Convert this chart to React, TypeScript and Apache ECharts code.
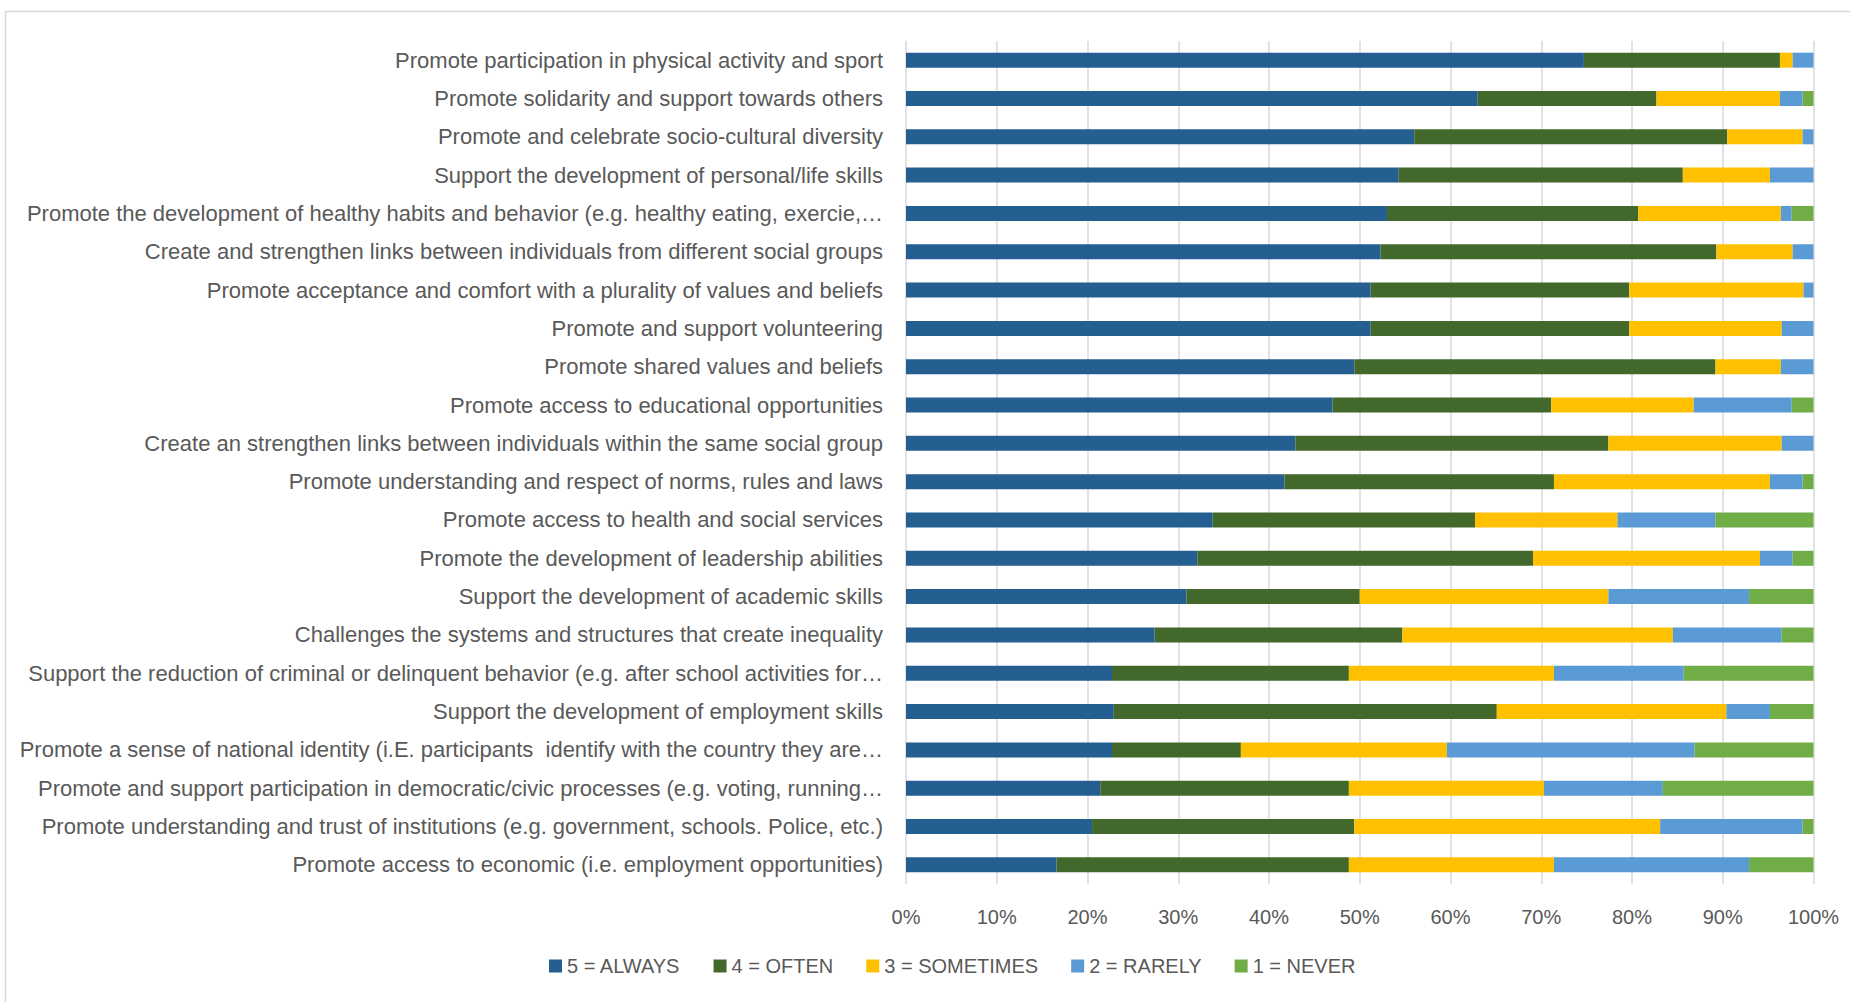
import React, { useEffect, useRef } from "react";
import * as echarts from "echarts";

const categories: string[] = [
  "Promote participation in physical activity and sport",
  "Promote solidarity and support towards others",
  "Promote and celebrate socio-cultural diversity",
  "Support the development of personal/life skills",
  "Promote the development of healthy habits and behavior (e.g. healthy eating, exercie,…",
  "Create and strengthen links between individuals from different social groups",
  "Promote acceptance and comfort with a plurality of values and beliefs",
  "Promote and support volunteering",
  "Promote shared values and beliefs",
  "Promote access to educational opportunities",
  "Create an strengthen links between individuals within the same social group",
  "Promote understanding and respect of norms, rules and laws",
  "Promote access to health and social services",
  "Promote the development of leadership abilities",
  "Support the development of academic skills",
  "Challenges the systems and structures that create inequality",
  "Support the reduction of criminal or delinquent behavior (e.g. after school activities for…",
  "Support the development of employment skills",
  "Promote a sense of national identity (i.E. participants  identify with the country they are…",
  "Promote and support participation in democratic/civic processes (e.g. voting, running…",
  "Promote understanding and trust of institutions (e.g. government, schools. Police, etc.)",
  "Promote access to economic (i.e. employment opportunities)",
];

const always: number[] = [74.7, 63.0, 56.0, 54.3, 53.0, 52.3, 51.2, 51.2, 49.4, 47.0, 42.9, 41.7, 33.8, 32.1, 30.9, 27.4, 22.7, 22.9, 22.7, 21.4, 20.5, 16.6];
const often: number[] = [21.6, 19.7, 34.5, 31.3, 27.7, 37.0, 28.5, 28.5, 39.8, 24.1, 34.5, 29.7, 28.9, 37.0, 19.1, 27.3, 26.1, 42.2, 14.2, 27.4, 28.9, 32.2];
const sometimes: number[] = [1.4, 13.6, 8.3, 9.6, 15.7, 8.4, 19.2, 16.8, 7.2, 15.7, 19.1, 23.8, 15.7, 25.0, 27.4, 29.8, 22.6, 25.3, 22.7, 21.5, 33.7, 22.6];
const rarely: number[] = [2.3, 2.5, 1.2, 4.8, 1.2, 2.3, 1.1, 3.5, 3.6, 10.8, 3.5, 3.6, 10.8, 3.6, 15.5, 12.0, 14.3, 4.8, 27.3, 13.1, 15.7, 21.5];
const never: number[] = [0, 1.2, 0, 0, 2.4, 0, 0, 0, 0, 2.4, 0, 1.2, 10.8, 2.3, 7.1, 3.5, 14.3, 4.8, 13.1, 16.6, 1.2, 7.1];

const seriesNames: string[] = ["5 = ALWAYS", "4 = OFTEN", "3 = SOMETIMES", "2 = RARELY", "1 = NEVER"];
const seriesColors: string[] = ["#255e91", "#43682b", "#ffc000", "#5b9bd5", "#70ad47"];
const xTicks: number[] = [0, 10, 20, 30, 40, 50, 60, 70, 80, 90, 100];

const FONT = "'Liberation Sans Narrow', 'Arial Narrow', 'Liberation Sans', sans-serif";

export default function App() {
  const ref = useRef<HTMLDivElement>(null);
  useEffect(() => {
    if (!ref.current) return;
    const chart = echarts.init(ref.current, undefined, { renderer: "svg" });
    const data = [always, often, sometimes, rarely, never];
    chart.setOption({
      animation: false,
      backgroundColor: "#ffffff",
      textStyle: { fontFamily: FONT },
      graphic: [
        {
          type: "rect",
          shape: { x: 5.5, y: 11.5, width: 1900, height: 1100 },
          style: { fill: "none", stroke: "#d9d9d9", lineWidth: 1.5 },
          silent: true,
        },
      ],
      grid: { left: 906, right: 36.5, top: 41, bottom: 118, containLabel: false },
      legend: {
        left: 544,
        top: 951,
        itemWidth: 13,
        itemHeight: 13,
        itemGap: 33,
        icon: "rect",
        textStyle: { fontFamily: FONT, fontSize: 20, color: "#595959" },
        data: seriesNames,
      },
      xAxis: {
        type: "value",
        min: xTicks[0],
        max: xTicks[xTicks.length - 1],
        interval: 10,
        axisLine: { show: false },
        axisTick: { show: false },
        splitLine: { show: true, lineStyle: { color: "#d9d9d9", width: 1.5 } },
        axisLabel: {
          formatter: "{value}%",
          fontFamily: FONT,
          fontSize: 20,
          color: "#595959",
          margin: 23,
        },
      },
      yAxis: {
        type: "category",
        inverse: true,
        data: categories,
        axisLine: { show: false },
        axisTick: { show: false },
        splitLine: { show: false },
        axisLabel: {
          fontFamily: FONT,
          fontSize: 22,
          color: "#595959",
          margin: 23,
        },
      },
      series: seriesNames.map((name, i) => ({
        name,
        type: "bar",
        stack: "total",
        barWidth: 15,
        itemStyle: { color: seriesColors[i] },
        emphasis: { disabled: true },
        data: data[i],
      })),
    });
    return () => chart.dispose();
  }, []);
  return (
    <div
      ref={ref}
      style={{ position: "fixed", left: 0, top: 0, width: 1850, height: 1002 }}
    />
  );
}
